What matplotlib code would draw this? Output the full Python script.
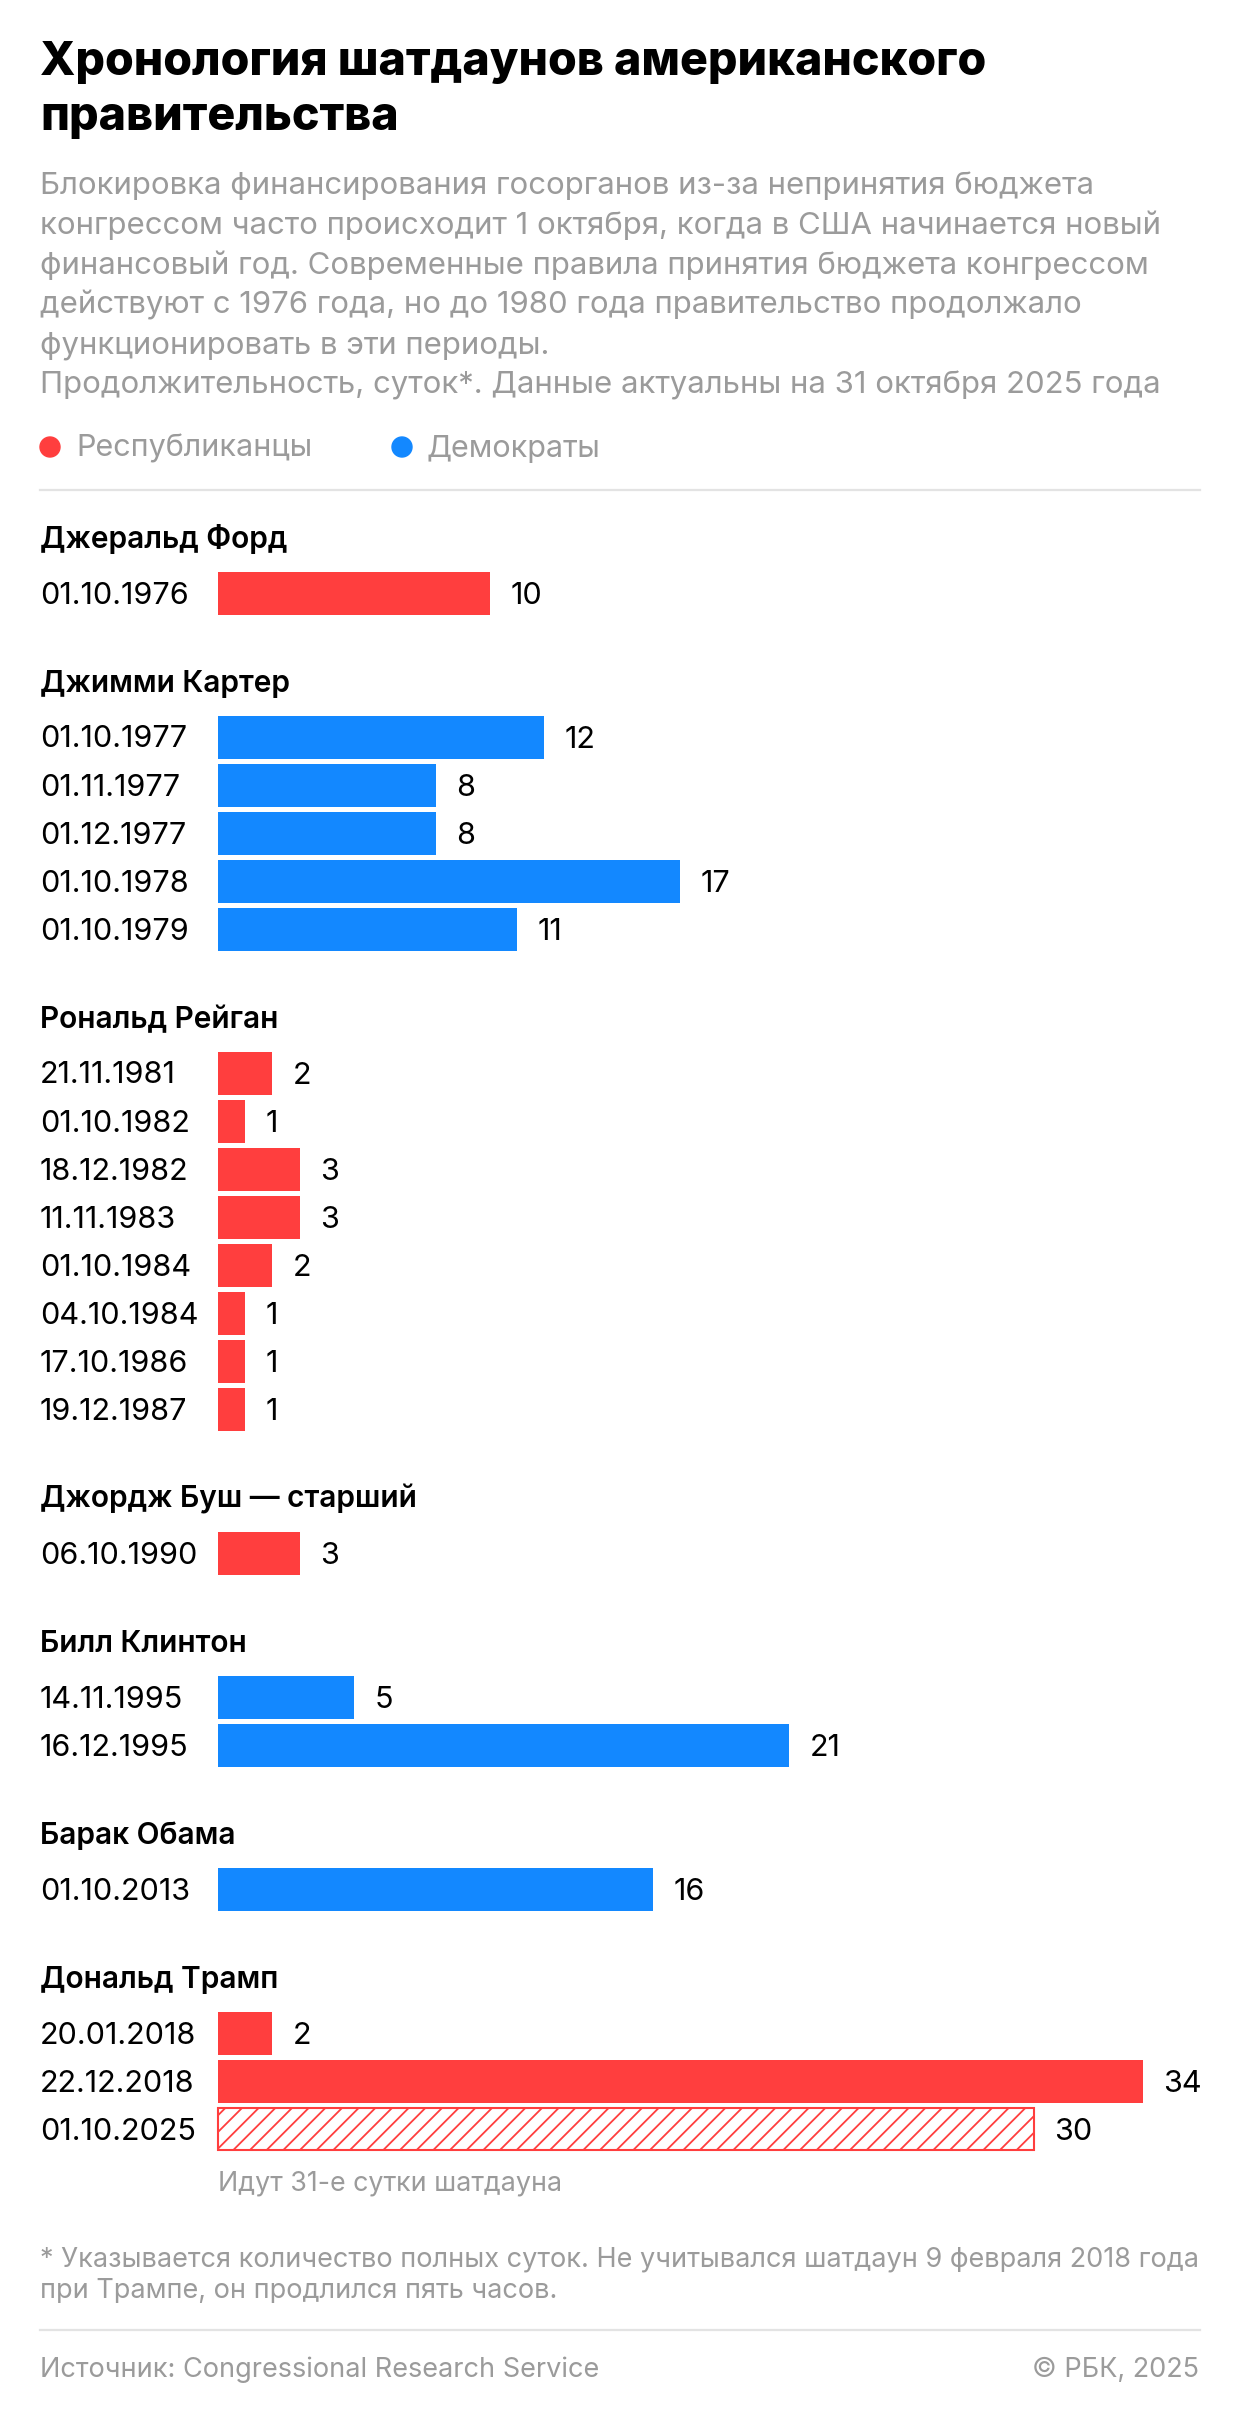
import matplotlib
matplotlib.use('Agg')
import matplotlib.pyplot as plt

plt.rcParams['font.family'] = ['Inter', 'DejaVu Sans']
plt.rcParams['hatch.linewidth'] = 1.3

RED = '#FF3E3E'
BLUE = '#1388FF'
GRAY = '#9B9B9B'
LINE = '#E3E3E3'

# data
presidents = ['Джеральд Форд', 'Джимми Картер', 'Рональд Рейган', 'Джордж Буш — старший',
              'Билл Клинтон', 'Барак Обама', 'Дональд Трамп']
parties = ['R', 'D', 'R', 'R', 'D', 'D', 'R']
start_dates = [
    ['01.10.1976'],
    ['01.10.1977', '01.11.1977', '01.12.1977', '01.10.1978', '01.10.1979'],
    ['21.11.1981', '01.10.1982', '18.12.1982', '11.11.1983', '01.10.1984', '04.10.1984',
     '17.10.1986', '19.12.1987'],
    ['06.10.1990'],
    ['14.11.1995', '16.12.1995'],
    ['01.10.2013'],
    ['20.01.2018', '22.12.2018', '01.10.2025'],
]
durations = [
    [10],
    [12, 8, 8, 17, 11],
    [2, 1, 3, 3, 2, 1, 1, 1],
    [3],
    [5, 21],
    [16],
    [2, 34, 30],
]
ongoing = '01.10.2025'

W, H = 1240, 2418
fig = plt.figure(figsize=(W / 100, H / 100), dpi=100)
fig.patch.set_facecolor('white')

# axes covers the whole figure: x in days, y in pixels from top
X0, PX_PER_DAY = 218, 27.2
ax = fig.add_axes([0, 0, 1, 1])
ax.set_xlim(-X0 / PX_PER_DAY, (W - X0) / PX_PER_DAY)
ax.set_ylim(H, 0)
ax.axis('off')


def put(px, py, s, **kw):
    fig.text(px / W, 1 - py / H, s, **kw)


# title and subtitle
put(40, 75, 'Хронология шатдаунов американского', fontsize=33.5, fontweight='heavy')
put(40, 130, 'правительства', fontsize=33.5, fontweight='heavy')
subtitle = [
    'Блокировка финансирования госорганов из-за непринятия бюджета',
    'конгрессом часто происходит 1 октября, когда в США начинается новый',
    'финансовый год. Современные правила принятия бюджета конгрессом',
    'действуют с 1976 года, но до 1980 года правительство продолжало',
    'функционировать в эти периоды.',
    'Продолжительность, суток*. Данные актуальны на 31 октября 2025 года',
]
for i, line in enumerate(subtitle):
    put(40, 194 + 40 * i, line, fontsize=22.4, color=GRAY)

# legend
for cx, tx, col, lab in [(50, 76, RED, 'Республиканцы'), (402, 427, BLUE, 'Демократы')]:
    fig.patches.append(matplotlib.patches.Ellipse((cx / W, 1 - 447 / H), 20 / W, 20 / H,
                                                  transform=fig.transFigure, color=col))
    put(tx, 457, lab, fontsize=22, color=GRAY)

fig.add_artist(plt.Line2D([40 / W, 1200 / W], [1 - 490 / H] * 2, color=LINE, lw=1.6))

# bars
y = 548
for name, party, dts, vals in zip(presidents, parties, start_dates, durations):
    put(40, y, name, fontsize=21.5, fontweight='semibold')
    col = RED if party == 'R' else BLUE
    rows = [y + 45 + 48 * i for i in range(len(vals))]
    for d, v, ry in zip(dts, vals, rows):
        if d == ongoing:
            ax.barh(ry, v, height=42, left=0, facecolor='white', edgecolor=col,
                    hatch='//', linewidth=1.5)
        else:
            ax.barh(ry, v, height=43, left=0, color=col, linewidth=0)
        put(40, ry + 10.5, d, fontsize=22)
        ax.annotate(str(v), (v, ry + 10.5), xytext=(14.5, 0), textcoords='offset points',
                    va='baseline', ha='left', fontsize=22)
    y = rows[-1] + 99

put(218, 2190, 'Идут 31-е сутки шатдауна', fontsize=19.3, color=GRAY)

put(40, 2266, '* Указывается количество полных суток. Не учитывался шатдаун 9 февраля 2018 года',
    fontsize=19.5, color=GRAY)
put(40, 2298, 'при Трампе, он продлился пять часов.', fontsize=19.5, color=GRAY)

fig.add_artist(plt.Line2D([40 / W, 1200 / W], [1 - 2330 / H] * 2, color=LINE, lw=1.6))

put(40, 2377, 'Источник: Congressional Research Service', fontsize=19.5, color=GRAY)
put(1199, 2377, '© РБК, 2025', fontsize=19.5, color=GRAY, ha='right')

fig.savefig('out.png', dpi=100, facecolor='white')
